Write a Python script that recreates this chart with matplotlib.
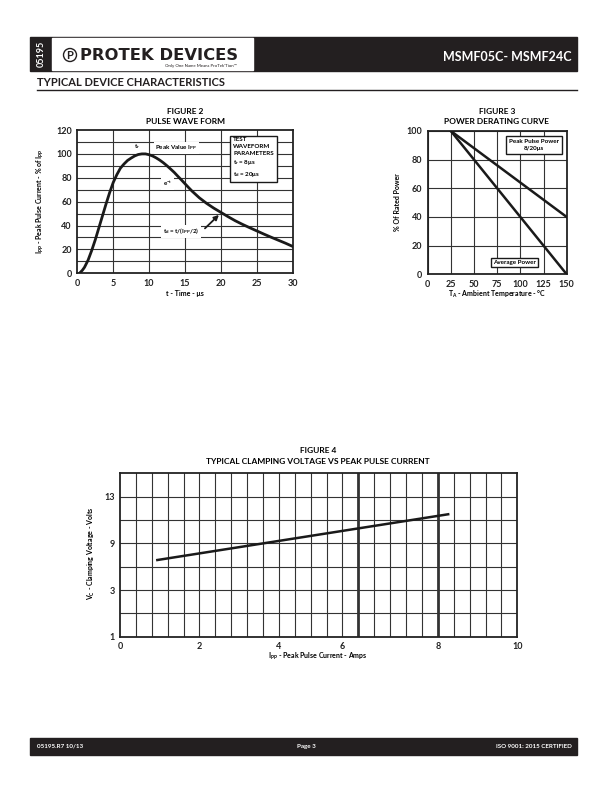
import matplotlib
matplotlib.use("Agg")
import matplotlib.pyplot as plt
from matplotlib.patches import Rectangle, Circle

plt.rcParams['font.family'] = ['Lato', 'DejaVu Sans']
plt.rcParams['font.weight'] = 'bold'
plt.rcParams['mathtext.fontset'] = 'custom'
plt.rcParams['mathtext.rm'] = 'Lato'
plt.rcParams['mathtext.bf'] = 'Lato:bold'
plt.rcParams['mathtext.default'] = 'bf'

W, H = 612, 792

# ---- data ----
# figure 2: 8/20us pulse wave form (% of Ipp vs time us)
pulse_t = [0.3, 0.7, 1.0, 1.5, 2.0, 2.5, 3.0, 3.5, 4.0, 4.5, 5.0, 5.5, 6.0, 6.5, 7.0,
           7.5, 8.0, 8.5, 9.0, 9.5, 10.0, 10.5, 11.0, 11.5, 12.0, 12.5, 13.0, 13.5,
           14.0, 14.5, 15.0, 15.5, 16.0, 17, 18, 19, 20, 21, 22, 23, 24, 25, 26, 27,
           28, 29, 30]
pulse_i = [0, 2.5, 5, 11, 19, 28, 38, 48, 58, 67.5, 76, 82.5, 88, 91.5, 94.5,
           96.5, 98.3, 99.5, 100, 100, 99.3, 98.2, 96.6, 94.7, 92.5, 90, 87.3, 84.5,
           81.3, 78.2, 75, 71.8, 68.7, 63.2, 58.6, 54.6, 51, 47.4, 44, 41, 38.2, 35.5, 32.8, 30.2,
           27.7, 25.2, 22.5]

# figure 3: power derating
temp = [25, 150]
peak_pulse_power = [100, 40]
average_power = [100, 0]

# figure 4: clamping voltage vs peak pulse current
ipp = [0.94, 8.26]
vc = [7.57, 11.49]
f4_xticks = [0, 2, 4, 5.6, 8, 10]
f4_xlabels = ['0', '2', '4', '6', '8', '10']
f4_yticks = [1, 5, 9, 13]
f4_ylabels = ['1', '3', '9', '13']


def ax_at(x0, y0, x1, y1):
    return fig.add_axes([x0 / W, 1 - y1 / H, (x1 - x0) / W, (y1 - y0) / H])


def px(x, y):
    return x / W, 1 - y / H


def style(ax):
    for s in ax.spines.values():
        s.set_linewidth(1.3)
        s.set_color('#222222')
    ax.tick_params(length=0, labelsize=6.5, pad=4, colors='#222222')
    for lab in ax.get_xticklabels() + ax.get_yticklabels():
        lab.set_fontweight('bold')


fig = plt.figure(figsize=(W / 100, H / 100), dpi=100)

# ---- header ----
hdr = fig.add_axes([0, 0, 1, 1])
hdr.set_xlim(0, W)
hdr.set_ylim(H, 0)
hdr.axis('off')
hdr.add_patch(Rectangle((30, 37), 547, 34, color='#231f20'))
hdr.add_patch(Rectangle((52, 38), 201, 32, color='white'))
hdr.text(41, 54, '05195', color='white', fontsize=6.5, rotation=90, ha='center', va='center',
         fontweight='bold')
hdr.add_patch(Circle((70, 55), 6.5, fill=False, lw=1, color='#231f20'))
hdr.text(70, 55.5, 'P', fontsize=8, ha='center', va='center', fontweight='bold', color='#231f20')
hdr.text(80, 55, 'PROTEK DEVICES', fontsize=11.8, ha='left', va='center', fontweight='heavy',
         color='#231f20', family='DejaVu Sans')
hdr.text(237, 66.5, 'Only One Name Means ProTek\u2019Tion\u2122', fontsize=3.2, ha='right', va='center',
         fontweight='normal', color='#231f20')
hdr.text(572, 57, 'MSMF05C- MSMF24C', color='white', fontsize=9, ha='right', va='center',
         fontweight='bold')
hdr.text(37, 82, 'TYPICAL DEVICE CHARACTERISTICS', fontsize=8, ha='left', va='center',
         fontweight='bold', color='#231f20')
hdr.plot([37, 577], [89.5, 89.5], color='#231f20', lw=1)

# ---- footer ----
hdr.add_patch(Rectangle((30, 738), 547, 17, color='#231f20'))
hdr.text(37, 746.5, '05195.R7 10/13', color='white', fontsize=4.5, ha='left', va='center')
hdr.text(306, 746.5, 'Page 3', color='white', fontsize=4.5, ha='center', va='center')
hdr.text(572, 746.5, 'ISO 9001: 2015 CERTIFIED', color='white', fontsize=4.5, ha='right', va='center')

# ---- figure 2 ----
ax2 = ax_at(77.3, 130, 292.7, 273.3)
ax2.set_xlim(0, 30)
ax2.set_ylim(0, 120)
ax2.set_xticks(range(0, 31, 5))
ax2.set_yticks(range(0, 121, 20))
for yv in range(10, 120, 10):
    ax2.axhline(yv, color='#333333', lw=0.8, zorder=1)
for xv in range(5, 30, 5):
    ax2.axvline(xv, color='#333333', lw=0.8, zorder=1)
ax2.plot(pulse_t, pulse_i, color='#1a1a1a', lw=2, zorder=3, solid_joinstyle='round')
bb = dict(boxstyle='square,pad=0.3', fc='white', ec='none')
ax2.text(13.8, 105, 'Peak Value I$_{PP}$', fontsize=4.5, ha='center', va='center', bbox=bb, zorder=4)
ax2.text(8.3, 106.5, 't$_r$', fontsize=4.5, ha='center', va='center', zorder=4)
ax2.text(12.6, 75, 'e$^{-t}$', fontsize=4.5, ha='center', va='center', bbox=bb, zorder=4)
ax2.text(14.5, 35, 't$_d$ = t/(I$_{PP}$/2)', fontsize=4.5, ha='center', va='center', bbox=bb, zorder=4)
ax2.annotate('', xy=(20, 50.5), xytext=(17.5, 36),
             arrowprops=dict(arrowstyle='-|>', color='#1a1a1a', lw=1.3, mutation_scale=7), zorder=4)
ax2.text(21.7, 114, 'TEST\nWAVEFORM\nPARAMETERS\nt$_r$ = 8\u03bcs\nt$_d$ = 20\u03bcs',
         fontsize=4.5, ha='left', va='top', linespacing=1.45, zorder=4,
         bbox=dict(boxstyle='square,pad=0.5', fc='white', ec='#1a1a1a', lw=1))
style(ax2)
fig.text(*px(185, 111), 'FIGURE 2', fontsize=6, ha='center', va='center', fontweight='bold')
fig.text(*px(185, 122), 'PULSE WAVE FORM', fontsize=6, ha='center', va='center', fontweight='bold')
fig.text(*px(185, 293), 't - Time - \u03bcs', fontsize=5, ha='center', va='center', fontweight='bold')
fig.text(*px(40, 201), 'I$_{PP}$ - Peak Pulse Current - % of I$_{PP}$', fontsize=5, rotation=90,
         ha='center', va='center', fontweight='bold')

# ---- figure 3 ----
ax3 = ax_at(427.7, 131, 566.7, 274.3)
ax3.set_xlim(0, 150)
ax3.set_ylim(0, 100)
ax3.set_xticks(range(0, 151, 25))
ax3.set_yticks(range(0, 101, 20))
ax3.grid(True, color='#333333', lw=0.8, zorder=1)
ax3.plot(temp, peak_pulse_power, color='#1a1a1a', lw=1.8, zorder=3)
ax3.plot(temp, average_power, color='#1a1a1a', lw=1.8, zorder=3)
ax3.text(114.5, 90.3, 'Peak Pulse Power\n8/20\u03bcs', fontsize=4.5, ha='center', va='center',
         linespacing=1.5, zorder=4,
         bbox=dict(boxstyle='square,pad=0.45', fc='white', ec='#1a1a1a', lw=1))
ax3.text(93.5, 8, 'Average Power', fontsize=4.5, ha='center', va='center', zorder=4,
         bbox=dict(boxstyle='square,pad=0.3', fc='white', ec='#1a1a1a', lw=1))
style(ax3)
fig.text(*px(497, 111), 'FIGURE 3', fontsize=6, ha='center', va='center', fontweight='bold')
fig.text(*px(497, 122), 'POWER DERATING CURVE', fontsize=6, ha='center', va='center', fontweight='bold')
fig.text(*px(497, 294), 'T$_A$ - Ambient Temperature - \u00b0C', fontsize=5, ha='center', va='center',
         fontweight='bold')
fig.text(*px(398, 202), '% Of Rated Power', fontsize=5, rotation=90, ha='center', va='center',
         fontweight='bold')

# ---- figure 4 ----
ax4 = ax_at(120, 473.3, 517.3, 636.7)
ax4.set_xlim(0, 10)
ax4.set_ylim(1, 15)
for i in range(1, 25):
    xv = i * 0.4
    thick = i in (15, 20)
    ax4.axvline(xv, color='#333333', lw=2 if thick else 0.8, zorder=1)
for yv in range(3, 15, 2):
    ax4.axhline(yv, color='#333333', lw=0.8, zorder=1)
ax4.plot(ipp, vc, color='#1a1a1a', lw=1.8, zorder=3)
ax4.set_xticks(f4_xticks)
ax4.set_xticklabels(f4_xlabels)
ax4.set_yticks(f4_yticks)
ax4.set_yticklabels(f4_ylabels)
style(ax4)
fig.text(*px(318, 450), 'FIGURE 4', fontsize=6, ha='center', va='center', fontweight='bold')
fig.text(*px(318, 461), 'TYPICAL CLAMPING VOLTAGE VS PEAK PULSE CURRENT', fontsize=6, ha='center',
         va='center', fontweight='bold')
fig.text(*px(318, 656), 'I$_{PP}$ - Peak Pulse Current - Amps', fontsize=5, ha='center', va='center',
         fontweight='bold')
fig.text(*px(91, 553), 'V$_C$ - Clamping Voltage - Volts', fontsize=5, rotation=90, ha='center',
         va='center', fontweight='bold')

fig.savefig('out.png', dpi=100)
